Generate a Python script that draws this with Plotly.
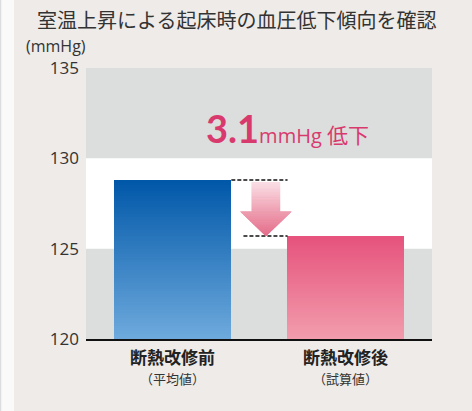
import plotly.graph_objects as go

# Blood pressure on waking, before and after insulation retrofit
categories = ["断熱改修前", "断熱改修後"]
subtitles = ["（平均値）", "（試算値）"]
values = [128.8, 125.7]
y_ticks = [120, 125, 130, 135]
title_text = "室温上昇による起床時の血圧低下傾向を確認"
unit_text = "(mmHg)"
diff_value = round(values[0] - values[1], 1)

Y_MIN, Y_MAX = 120, 135
BAR_W = 0.68
FONT = "Noto Sans CJK JP"

# top / bottom colours of each bar's vertical gradient
bar_grad = [("#0057a8", "#6eaadd"), ("#e6527c", "#f29dad")]


def hex_rgb(h):
    h = h.lstrip("#")
    return tuple(int(h[i:i + 2], 16) for i in (0, 2, 4))


def mix(c_top, c_bot, t):
    a, b = hex_rgb(c_top), hex_rgb(c_bot)
    return "rgb(%d,%d,%d)" % tuple(round(a[i] + (b[i] - a[i]) * t) for i in range(3))


fig = go.Figure()

# each bar is drawn as a stack of thin slices so the fill fades vertically
N = 60
for i, (cat, v) in enumerate(zip(categories, values)):
    step = (v - Y_MIN) / N
    bases, heights, colors = [], [], []
    for k in range(N):
        lo = Y_MIN + k * step
        hi = min(v, lo + step * 1.6)
        bases.append(lo)
        heights.append(hi - lo)
        colors.append(mix(bar_grad[i][0], bar_grad[i][1], 1 - (k + 0.5) / N))
    fig.add_trace(go.Bar(
        x=[i] * N, y=heights, base=bases, width=BAR_W,
        marker=dict(color=colors, line=dict(width=0)),
        hoverinfo="skip", showlegend=False,
    ))

shapes = []
# background bands
shapes.append(dict(type="rect", xref="paper", yref="y", x0=0, x1=1, y0=125, y1=130,
                   fillcolor="white", line=dict(width=0), layer="below"))
# pale strip at the left edge of the page
shapes.append(dict(type="rect", xref="paper", yref="paper", x0=-0.26, x1=-0.208,
                   y0=-0.3, y1=1.3, fillcolor="#fafafa", line=dict(width=0), layer="below"))
shapes.append(dict(type="line", xref="paper", yref="paper", x0=-0.2465, x1=-0.2465,
                   y0=-0.3, y1=1.3, line=dict(color="#d6d6d6", width=1), layer="below"))

# dashed guides at each bar top
right_edge = 0 + BAR_W / 2
left_edge = 1 - BAR_W / 2
shapes.append(dict(type="line", xref="x", yref="y", x0=right_edge, x1=left_edge + 0.005,
                   y0=values[0], y1=values[0],
                   line=dict(color="#111111", width=1.6, dash="4px,2px")))
shapes.append(dict(type="line", xref="x", yref="y", x0=0.41, x1=left_edge + 0.005,
                   y0=values[1], y1=values[1],
                   line=dict(color="#111111", width=1.6, dash="4px,2px")))

# downward arrow with a pink vertical gradient
ax_c = 0.54
shaft_hw = 0.081
head_hw = 0.147
y_top = values[0] - 0.13
y_tip = values[1]
y_head = y_tip + 1.35
arrow_top_col, arrow_mid_col, arrow_bot_col = "#fce3e9", "#efa0b2", "#e56d8b"


def arrow_hw(y):
    if y >= y_head:
        return shaft_hw
    return head_hw * (y - y_tip) / (y_head - y_tip)


def arrow_col(y):
    if y >= y_head:
        return mix(arrow_top_col, arrow_mid_col, (y_top - y) / (y_top - y_head))
    return mix(arrow_mid_col, arrow_bot_col, (y_head - y) / (y_head - y_tip))


# solid outline underneath so the gradient slices leave no seams
outline = "M %f,%f L %f,%f L %f,%f L %f,%f L %f,%f L %f,%f L %f,%f Z" % (
    ax_c - shaft_hw, y_top, ax_c + shaft_hw, y_top, ax_c + shaft_hw, y_head,
    ax_c + head_hw, y_head, ax_c, y_tip, ax_c - head_hw, y_head, ax_c - shaft_hw, y_head)
shapes.append(dict(type="path", xref="x", yref="y", path=outline,
                   fillcolor=arrow_mid_col, line=dict(width=0)))

M = 40
for seg_top, seg_bot in ((y_top, y_head), (y_head, y_tip)):
    for k in range(M):
        y1 = seg_top - (seg_top - seg_bot) * k / M
        y2 = seg_top - (seg_top - seg_bot) * (k + 1) / M
        if seg_top == y_head:
            w1 = head_hw * (y1 - y_tip) / (y_head - y_tip)
        else:
            w1 = shaft_hw
        w2 = arrow_hw(y2) if seg_top == y_head else shaft_hw
        path = "M %f,%f L %f,%f L %f,%f L %f,%f Z" % (
            ax_c - w1, y1, ax_c + w1, y1, ax_c + w2, y2, ax_c - w2, y2)
        shapes.append(dict(type="path", xref="x", yref="y", path=path,
                           fillcolor=arrow_col((y1 + y2) / 2),
                           line=dict(color=arrow_col((y1 + y2) / 2), width=0.6)))

annotations = [
    dict(text=title_text, xref="paper", yref="paper", x=0.4364, y=1.1808,
         xanchor="center", yanchor="middle", showarrow=False,
         font=dict(family=FONT, size=20, color="#333333")),
    dict(text=unit_text, xref="paper", yref="paper", x=-0.178, y=1.083,
         xanchor="left", yanchor="middle", showarrow=False,
         font=dict(family="Open Sans", size=16, color="#333333")),
    dict(text=("<span style='font-family:Lato;font-weight:bold;font-size:38px'>%s</span>"
               "<span style='font-family:Open Sans;font-size:20px'>mmHg </span>"
               "<span style='font-size:21px'>低下</span>") % diff_value,
         xref="paper", yref="paper", x=0.341, y=0.779,
         xanchor="left", yanchor="middle", showarrow=False,
         font=dict(family=FONT, size=20, color="#d93a6e")),
]
for i, (cat, sub) in enumerate(zip(categories, subtitles)):
    annotations.append(dict(text="<b>%s</b>" % cat, xref="x", yref="paper", x=i, y=-0.063,
                            xanchor="center", yanchor="middle", showarrow=False,
                            font=dict(family=FONT, size=17, color="#222222")))
    annotations.append(dict(text=sub, xref="x", yref="paper", x=i, y=-0.144,
                            xanchor="center", yanchor="middle", showarrow=False,
                            font=dict(family=FONT, size=13, color="#333333")))

fig.update_layout(
    width=472, height=411,
    margin=dict(l=86, r=40, t=68, b=72),
    paper_bgcolor="#eeebe8",
    plot_bgcolor="#dcdddd",
    barmode="overlay",
    bargap=0,
    shapes=shapes,
    annotations=annotations,
    xaxis=dict(type="linear", range=[-0.5, 1.5], showticklabels=False, ticks="",
               showgrid=False, zeroline=False, showline=True, linecolor="#111111",
               linewidth=2, fixedrange=True),
    yaxis=dict(range=[Y_MIN, Y_MAX], tickvals=y_ticks, showgrid=False, zeroline=False,
               ticks="", ticklabelstandoff=6, showline=False,
               tickfont=dict(family="Open Sans", size=17, color="#333333"),
               fixedrange=True),
)

fig.write_html("out.html")
